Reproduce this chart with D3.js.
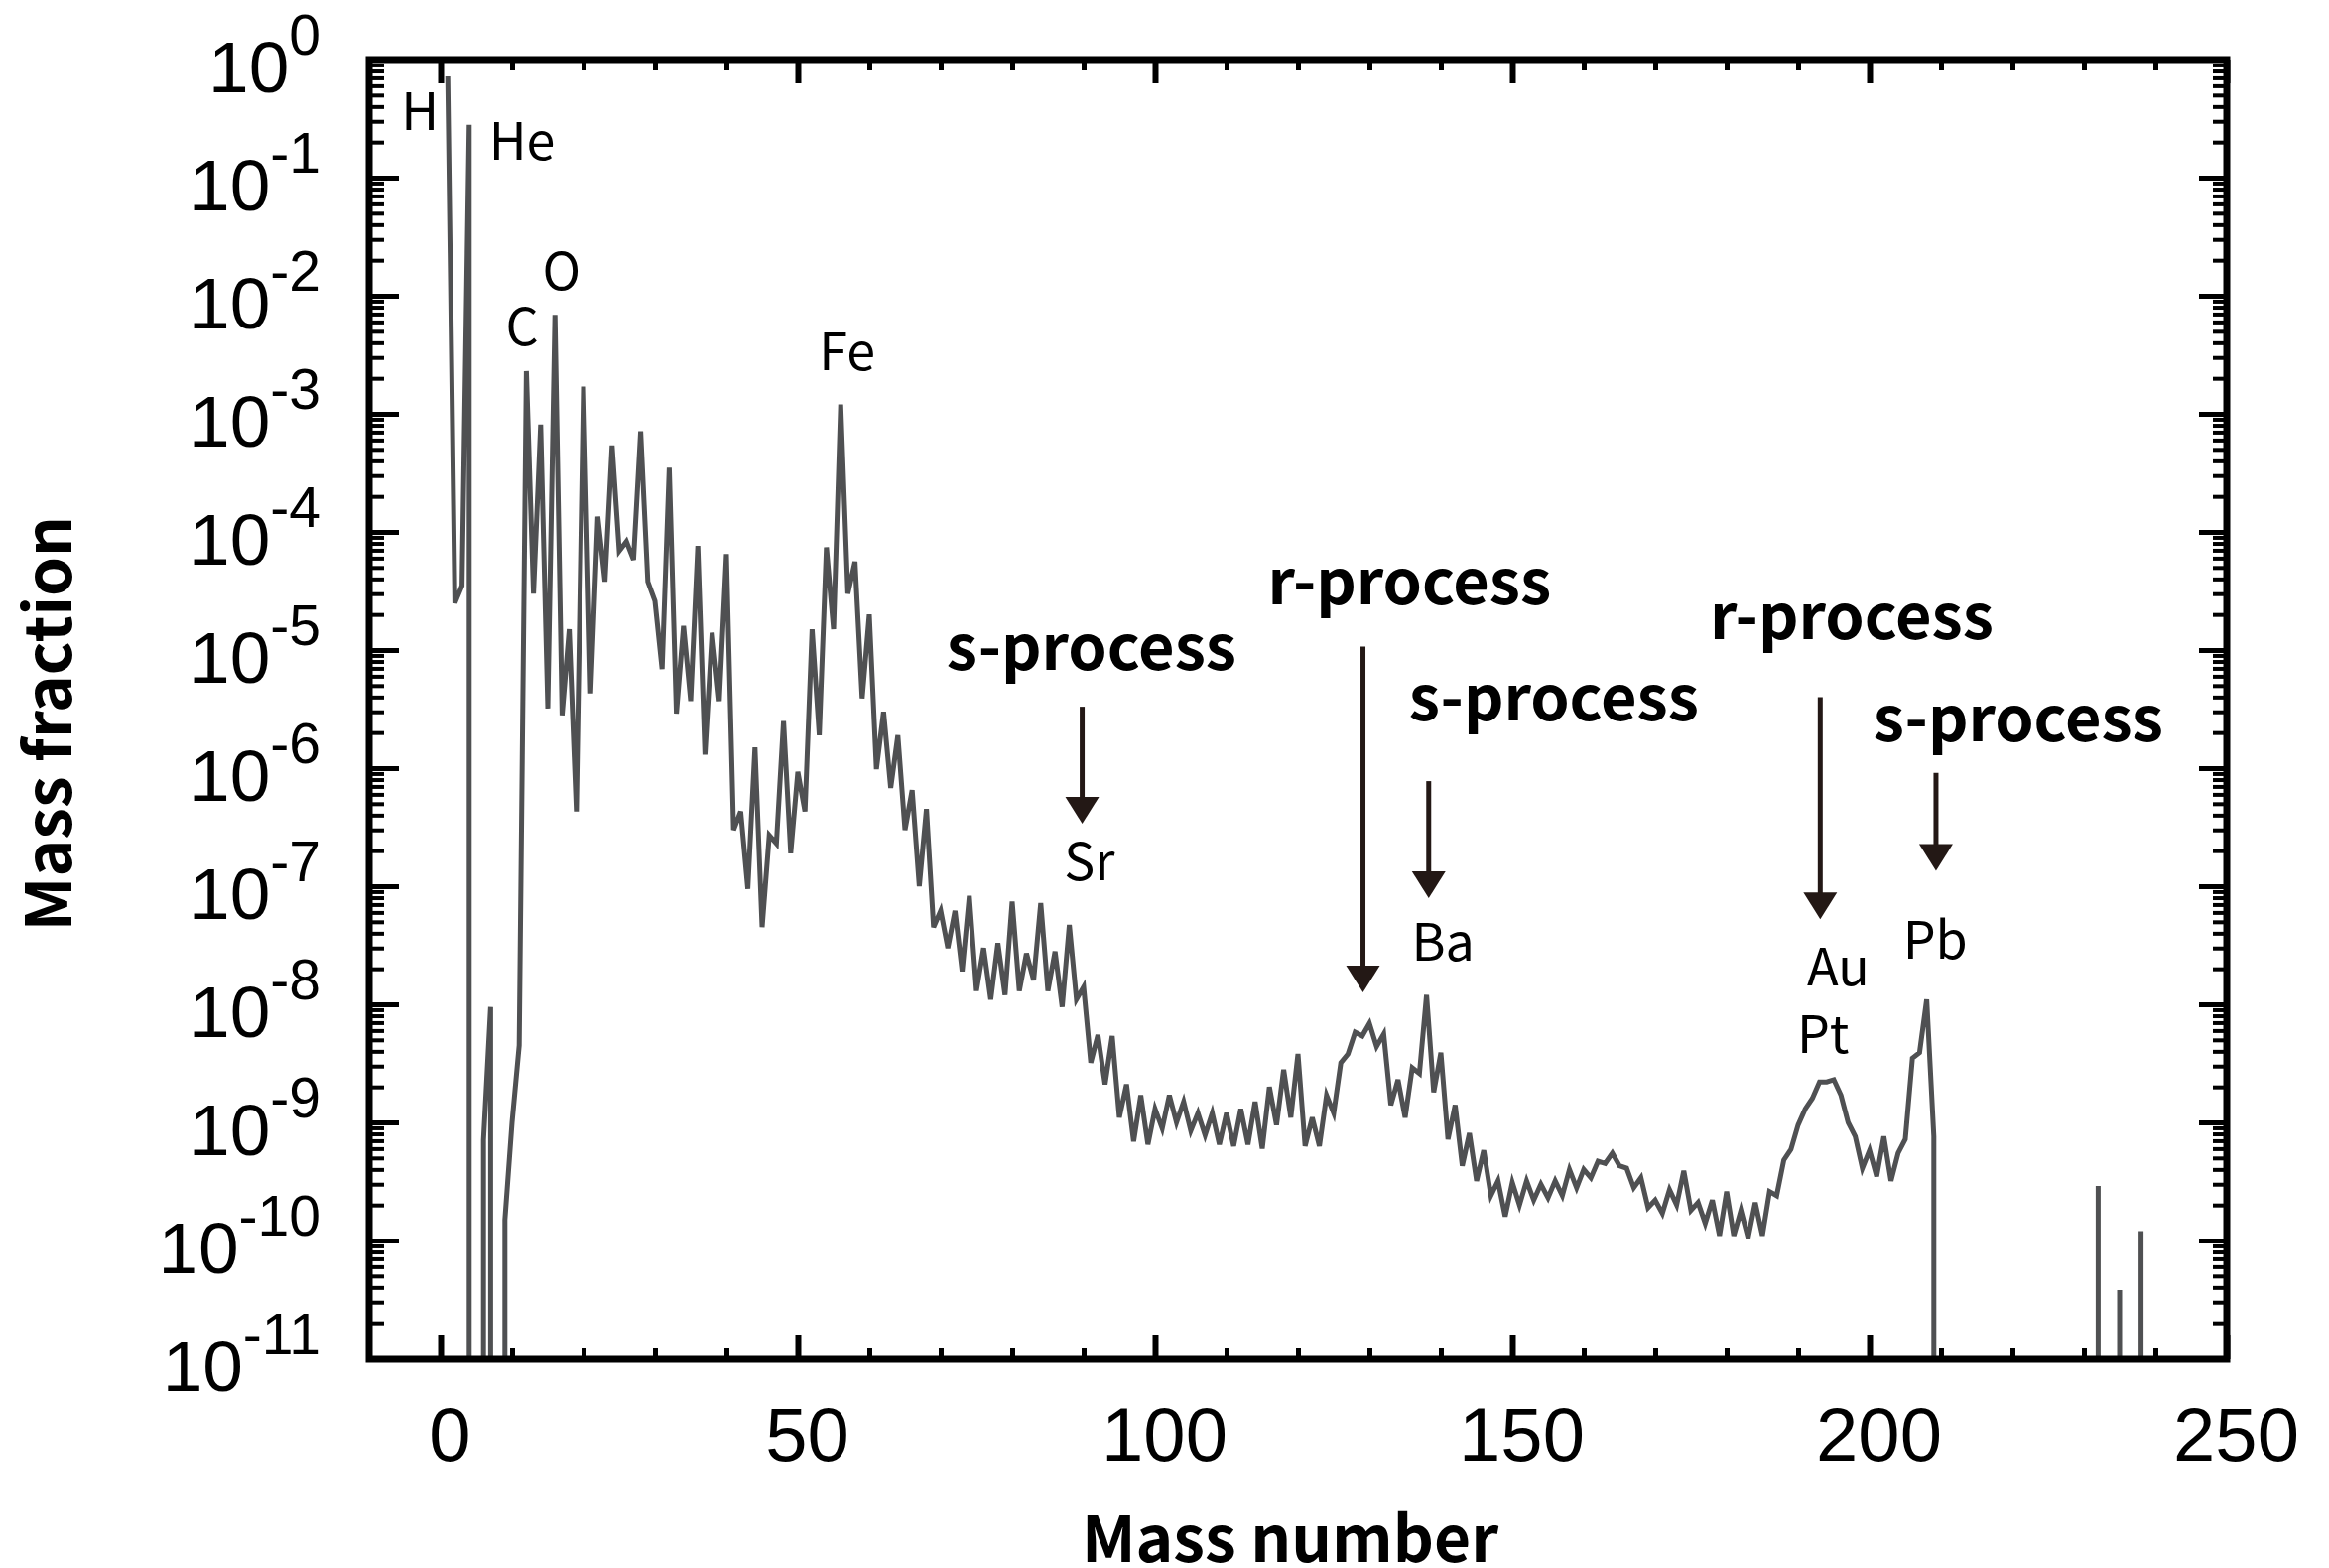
<!DOCTYPE html>
<html>
<head>
<meta charset="utf-8">
<script src="https://cdn.jsdelivr.net/npm/d3@7"></script>
<style>
  html, body { margin: 0; padding: 0; background: #fff; }
  svg { display: block; }
</style>
</head>
<body>
<div id="chart"></div>
<script>
"use strict";

// mass fraction for each mass number (0 = none)
const fracA1to40 = [
    7.2e-1, 2.5e-5, 3.5e-5, 2.8e-1, 0, 7.1e-10, 9.5e-9, 0, 1.5e-10, 1.0e-9,
    4.5e-9, 2.3e-3, 3.0e-5, 8.1e-4, 3.2e-6, 6.9e-3, 2.8e-6, 1.5e-5, 4.3e-7, 1.7e-3,
    4.3e-6, 1.35e-4, 3.8e-5, 5.4e-4, 6.9e-5, 8.3e-5, 5.8e-5, 7.1e-4, 3.8e-5, 2.6e-5,
    6.9e-6, 3.5e-4, 2.9e-6, 1.6e-5, 3.7e-6, 7.6e-5, 1.3e-6, 1.4e-5, 3.7e-6, 6.5e-5
];
const fracA41to100 = [
    3.0e-7, 4.3e-7, 9.5e-8, 1.5e-6, 4.5e-8, 2.7e-7, 2.3e-7, 2.5e-6, 1.9e-7, 9.3e-7,
    4.3e-7, 1.5e-5, 1.9e-6, 7.4e-5, 1.5e-5, 1.2e-3, 3.0e-5, 5.6e-5, 3.9e-6, 2.0e-5,
    9.8e-7, 3.0e-6, 6.8e-7, 1.9e-6, 3.0e-7, 6.5e-7, 1.0e-7, 4.5e-7, 4.5e-8, 6.2e-8,
    3.0e-8, 6.2e-8, 1.9e-8, 8.3e-8, 1.3e-8, 3.0e-8, 1.1e-8, 3.3e-8, 1.2e-8, 7.4e-8,
    1.3e-8, 2.7e-8, 1.6e-8, 7.2e-8, 1.3e-8, 2.8e-8, 9.5e-9, 4.7e-8, 1.1e-8, 1.4e-8,
    3.2e-9, 5.5e-9, 2.1e-9, 5.4e-9, 1.1e-9, 2.1e-9, 6.9e-10, 1.7e-9, 6.5e-10, 1.3e-9
];
const fracA101to160 = [
    8.9e-10, 1.7e-9, 1.0e-9, 1.5e-9, 8.5e-10, 1.2e-9, 7.8e-10, 1.2e-9, 6.5e-10, 1.2e-9,
    6.3e-10, 1.3e-9, 6.5e-10, 1.5e-9, 6.0e-10, 2.0e-9, 9.5e-10, 2.8e-9, 1.1e-9, 3.8e-9,
    6.3e-10, 1.1e-9, 6.3e-10, 1.7e-9, 1.2e-9, 3.2e-9, 3.8e-9, 5.8e-9, 5.4e-9, 6.9e-9,
    4.4e-9, 5.6e-9, 1.4e-9, 2.3e-9, 1.1e-9, 2.9e-9, 2.6e-9, 1.2e-8, 1.8e-9, 3.9e-9,
    7.2e-10, 1.4e-9, 4.3e-10, 8.1e-10, 3.2e-10, 5.8e-10, 2.4e-10, 3.2e-10, 1.6e-10, 3.1e-10,
    2.0e-10, 3.2e-10, 2.2e-10, 3.0e-10, 2.3e-10, 3.2e-10, 2.4e-10, 4.0e-10, 2.8e-10, 4.0e-10
];
const fracA161to209 = [
    3.4e-10, 4.7e-10, 4.5e-10, 5.5e-10, 4.3e-10, 4.1e-10, 2.8e-10, 3.4e-10, 1.9e-10, 2.2e-10,
    1.7e-10, 2.7e-10, 2.0e-10, 3.9e-10, 1.8e-10, 2.1e-10, 1.4e-10, 2.2e-10, 1.1e-10, 2.6e-10,
    1.1e-10, 1.8e-10, 1.05e-10, 2.1e-10, 1.1e-10, 2.6e-10, 2.4e-10, 4.8e-10, 5.9e-10, 9.5e-10,
    1.3e-9, 1.6e-9, 2.2e-9, 2.2e-9, 2.3e-9, 1.7e-9, 1.0e-9, 7.6e-10, 4.1e-10, 5.8e-10,
    3.5e-10, 7.6e-10, 3.2e-10, 5.5e-10, 7.2e-10, 3.5e-9, 3.9e-9, 1.1e-8, 7.6e-10
];
const actinideMass = [232, 235, 238];
const actinideFrac = [2.9e-10, 3.8e-11, 1.2e-10];

// axis ticks
const xTickLabels = [0, 50, 100, 150, 200, 250];
const yTickExponents = [0, -1, -2, -3, -4, -5, -6, -7, -8, -9, -10, -11];

// annotations, placed in data units (mass number, log10 of mass fraction)
const elementLabels = [
    { text: "H", mass: -2.9, lg: -0.60 },
    { text: "He", mass: 11.4, lg: -0.85 },
    { text: "O", mass: 16.9, lg: -1.95 },
    { text: "C", mass: 11.4, lg: -2.42 },
    { text: "Fe", mass: 56.9, lg: -2.63 },
    { text: "Sr", mass: 90.8, lg: -6.95 },
    { text: "Ba", mass: 140.3, lg: -7.63 },
    { text: "Au", mass: 195.6, lg: -7.84 },
    { text: "Pt", mass: 193.5, lg: -8.41 },
    { text: "Pb", mass: 209.2, lg: -7.61 }
];
const processLabels = [
    { text: "s-process", mass: 91.1, lg: -5.17 },
    { text: "r-process", mass: 135.6, lg: -4.61 },
    { text: "s-process", mass: 155.8, lg: -5.60 },
    { text: "r-process", mass: 197.5, lg: -4.91 },
    { text: "s-process", mass: 220.8, lg: -5.77 }
];
const arrows = [
    { mass: 89.8, lgTop: -5.48, lgTip: -6.47 },
    { mass: 129.1, lgTop: -4.97, lgTip: -7.90 },
    { mass: 138.3, lgTop: -6.11, lgTip: -7.10 },
    { mass: 193.1, lgTop: -5.40, lgTip: -7.28 },
    { mass: 209.3, lgTop: -6.04, lgTip: -6.87 }
];

const W = 2347, H = 1580;
const margin = { top: 60, right: W - 2244, bottom: H - 1369, left: 372 };
const width = W - margin.left - margin.right;
const height = H - margin.top - margin.bottom;

const tickFont = "'Liberation Sans', Arial, Helvetica, sans-serif";
const labelFont = "'Noto Sans CJK JP', 'Noto Sans', 'Open Sans', sans-serif";

const svg = d3.select("#chart").append("svg")
    .attr("width", W)
    .attr("height", H);

const g = svg.append("g")
    .attr("transform", `translate(${margin.left},${margin.top})`);

const x = d3.scaleLinear().domain([-10, 250]).range([0, width]);
const y = d3.scaleLog().domain([1e-11, 1]).range([height, 0]);

// collect records
const records = [];
[[1, fracA1to40], [41, fracA41to100], [101, fracA101to160], [161, fracA161to209]]
    .forEach(([start, arr]) => arr.forEach((v, i) => records.push({ mass: start + i, frac: v })));
actinideMass.forEach((m, i) => records.push({ mass: m, frac: actinideFrac[i] }));

// split into runs of present values; missing values drop straight down
const floorFrac = 1e-13;
const runs = [];
let run = null;
records.forEach((d, i) => {
    const prev = records[i - 1];
    if (d.frac > 0) {
        if (!run || !prev || d.mass - prev.mass !== 1 || prev.frac <= 0) {
            run = [];
            runs.push(run);
        }
        run.push(d);
    } else {
        run = null;
    }
});
const firstMass = records[0].mass;
const lastMass = records[records.length - 1].mass;
const paths = runs.map(r => {
    const pts = r.slice();
    if (r[0].mass > firstMass) pts.unshift({ mass: r[0].mass, frac: floorFrac });
    if (r[r.length - 1].mass < lastMass) pts.push({ mass: r[r.length - 1].mass, frac: floorFrac });
    return pts;
});

svg.append("defs").append("clipPath")
    .attr("id", "plot-clip")
    .append("rect")
    .attr("width", width)
    .attr("height", height);

const line = d3.line()
    .x(d => x(d.mass))
    .y(d => y(d.frac));

g.append("g")
    .attr("clip-path", "url(#plot-clip)")
    .selectAll("path")
    .data(paths)
    .join("path")
    .attr("d", line)
    .attr("fill", "none")
    .attr("stroke", "#4f5052")
    .attr("stroke-width", 5)
    .attr("stroke-linejoin", "miter");

// ticks
const xMajor = xTickLabels;
const xMinor = d3.range(10, 250, 10).filter(v => v % 50 !== 0);
const yMajor = yTickExponents.map(e => Math.pow(10, e));
const yMinor = [];
yTickExponents.slice(0, -1).forEach(e => {
    for (let k = 2; k <= 9; k++) yMinor.push(k * Math.pow(10, e - 1));
});

function drawTicks(axis, transform, strokeWidth) {
    return g.append("g")
        .attr("transform", transform)
        .call(axis)
        .call(s => s.select(".domain").remove())
        .call(s => s.selectAll(".tick line").attr("stroke", "#000").attr("stroke-width", strokeWidth));
}

drawTicks(d3.axisBottom(x).tickValues(xMinor).tickSize(-11).tickFormat(""), `translate(0,${height})`, 5);
drawTicks(d3.axisTop(x).tickValues(xMinor).tickSize(-11).tickFormat(""), "translate(0,0)", 5);
drawTicks(d3.axisTop(x).tickValues(xMajor).tickSize(-24).tickFormat(""), "translate(0,0)", 6);
drawTicks(d3.axisLeft(y).tickValues(yMinor).tickSize(-15).tickFormat(""), "translate(0,0)", 4);
drawTicks(d3.axisLeft(y).tickValues(yMajor).tickSize(-30).tickFormat(""), "translate(0,0)", 5);
drawTicks(d3.axisRight(y).tickValues(yMinor).tickSize(-14).tickFormat(""), `translate(${width},0)`, 4);
drawTicks(d3.axisRight(y).tickValues(yMajor).tickSize(-28).tickFormat(""), `translate(${width},0)`, 5);

const xAxisMajor = drawTicks(
    d3.axisBottom(x).tickValues(xMajor).tickSize(-24).tickFormat(d3.format("d")),
    `translate(0,${height})`, 6);
xAxisMajor.selectAll(".tick text")
    .attr("y", 103)
    .attr("dy", null)
    .attr("dx", 9)
    .attr("fill", "#000")
    .style("font-family", tickFont)
    .style("font-size", "76px");

// frame
g.append("rect")
    .attr("width", width)
    .attr("height", height)
    .attr("fill", "none")
    .attr("stroke", "#000")
    .attr("stroke-width", 7);

// y tick labels with superscript exponent
const yLabels = g.append("g")
    .selectAll("text")
    .data(yTickExponents)
    .join("text")
    .attr("x", -49)
    .attr("y", d => y(Math.pow(10, d)) + 33)
    .attr("text-anchor", "end")
    .attr("fill", "#000")
    .style("font-family", tickFont)
    .style("font-size", "73px");
yLabels.append("tspan").text("10");
yLabels.append("tspan")
    .attr("dy", -38)
    .style("font-size", "57px")
    .text(d => String(d));

// axis titles
svg.append("text")
    .attr("x", 1300)
    .attr("y", 1574)
    .attr("text-anchor", "middle")
    .style("font-family", labelFont)
    .style("font-weight", "700")
    .style("font-size", "64px")
    .text("Mass number");

svg.append("text")
    .attr("transform", "translate(72,729) rotate(-90)")
    .attr("text-anchor", "middle")
    .style("font-family", labelFont)
    .style("font-weight", "700")
    .style("font-size", "64px")
    .text("Mass fraction");

// element labels
g.append("g")
    .selectAll("text")
    .data(elementLabels)
    .join("text")
    .attr("x", d => x(d.mass))
    .attr("y", d => y(Math.pow(10, d.lg)))
    .attr("text-anchor", "middle")
    .attr("fill", "#000")
    .style("font-family", labelFont)
    .style("font-size", "52px")
    .text(d => d.text);

// process labels
g.append("g")
    .selectAll("text")
    .data(processLabels)
    .join("text")
    .attr("x", d => x(d.mass))
    .attr("y", d => y(Math.pow(10, d.lg)))
    .attr("text-anchor", "middle")
    .attr("fill", "#000")
    .style("font-family", labelFont)
    .style("font-weight", "700")
    .style("font-size", "63px")
    .text(d => d.text);

// arrows
const arrowColor = "#231815";
const headW = 34, headH = 27;
const arrowG = g.append("g");
arrows.forEach(a => {
    const ax = x(a.mass);
    const yTop = y(Math.pow(10, a.lgTop));
    const yTip = y(Math.pow(10, a.lgTip));
    arrowG.append("line")
        .attr("x1", ax).attr("x2", ax)
        .attr("y1", yTop).attr("y2", yTip - headH + 2)
        .attr("stroke", arrowColor)
        .attr("stroke-width", 5);
    arrowG.append("path")
        .attr("d", `M${ax - headW / 2},${yTip - headH}L${ax + headW / 2},${yTip - headH}L${ax},${yTip}Z`)
        .attr("fill", arrowColor);
});
</script>
</body>
</html>
